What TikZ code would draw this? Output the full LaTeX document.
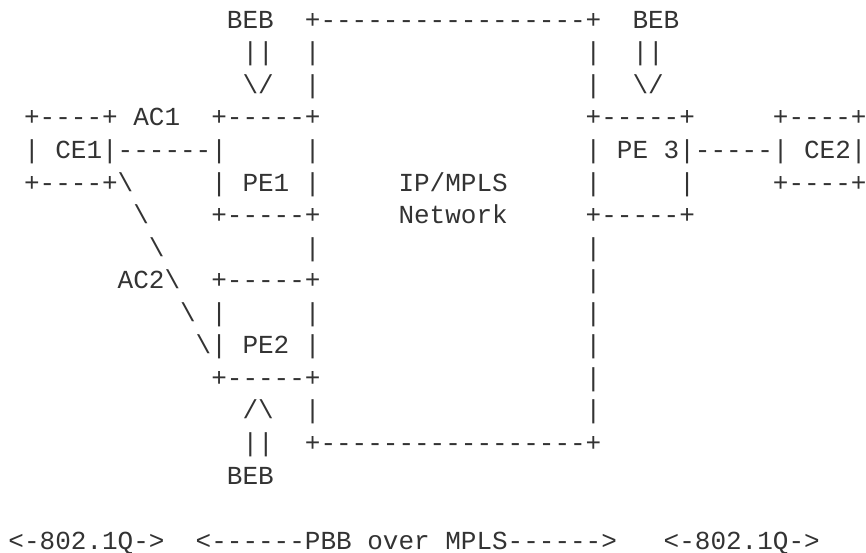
\documentclass[tikz,border=0pt]{standalone}
\usepackage{fontspec}
\setmonofont{Liberation Mono}
\definecolor{ink}{HTML}{333333}
\newcommand\asc[4]{\node[asc] (#1) at ({8.5+#2*15.6},{28.3+(#3-1)*32.55}) {#4};}
\begin{document}
\begin{tikzpicture}[x=1pt,y=-1pt,
  asc/.style={anchor=base west,inner sep=0pt,outer sep=0pt,text=ink,
    font=\ttfamily\fontsize{26}{26}\selectfont}]
\fill[white] (0,0) rectangle (866,553);
\useasboundingbox (0,0) rectangle (866,553);
% row 1
\asc{bebtl}{14}{1}{BEB}
\asc{nettop}{19}{1}{+-----------------+}
\asc{bebtr}{40}{1}{BEB}
% row 2
\asc{arrtl}{15}{2}{||}
\asc{netl2}{19}{2}{|}
\asc{netr2}{37}{2}{|}
\asc{arrtr}{40}{2}{||}
% row 3
\asc{headtl}{15}{3}{\textbackslash/}
\asc{netl3}{19}{3}{|}
\asc{netr3}{37}{3}{|}
\asc{headtr}{40}{3}{\textbackslash/}
% row 4
\asc{ceonetop}{1}{4}{+----+}
\asc{acone}{8}{4}{AC1}
\asc{peonetop}{13}{4}{+-----+}
\asc{pethreetop}{37}{4}{+-----+}
\asc{cetwotop}{49}{4}{+----+}
% row 5
\asc{ceone}{1}{5}{| CE1|------|}
\asc{peoner5}{19}{5}{|}
\asc{pethree}{37}{5}{| PE 3|-----| CE2|}
% row 6
\asc{ceonebot}{1}{6}{+----+\textbackslash}
\asc{peone}{13}{6}{| PE1 |}
\asc{iplabel}{25}{6}{IP/MPLS}
\asc{pethreel6}{37}{6}{|}
\asc{pethreer6}{43}{6}{|}
\asc{cetwobot}{49}{6}{+----+}
% row 7
\asc{actwoa}{8}{7}{\textbackslash}
\asc{peonebot}{13}{7}{+-----+}
\asc{netlabel}{25}{7}{Network}
\asc{pethreebot}{37}{7}{+-----+}
% row 8
\asc{actwob}{9}{8}{\textbackslash}
\asc{netl8}{19}{8}{|}
\asc{netr8}{37}{8}{|}
% row 9
\asc{actwo}{7}{9}{AC2\textbackslash}
\asc{petwotop}{13}{9}{+-----+}
\asc{netr9}{37}{9}{|}
% row 10
\asc{actwoc}{11}{10}{\textbackslash}
\asc{petwol10}{13}{10}{|}
\asc{petwor10}{19}{10}{|}
\asc{netr10}{37}{10}{|}
% row 11
\asc{petwo}{12}{11}{\textbackslash| PE2 |}
\asc{netr11}{37}{11}{|}
% row 12
\asc{petwobot}{13}{12}{+-----+}
\asc{netr12}{37}{12}{|}
% row 13
\asc{headb}{15}{13}{/\textbackslash}
\asc{netl13}{19}{13}{|}
\asc{netr13}{37}{13}{|}
% row 14
\asc{arrb}{15}{14}{||}
\asc{netbot}{19}{14}{+-----------------+}
% row 15
\asc{bebb}{14}{15}{BEB}
% row 17
\asc{dotql}{0}{17}{<-802.1Q->}
\asc{pbb}{12}{17}{<------PBB over MPLS------>}
\asc{dotqr}{42}{17}{<-802.1Q->}
\end{tikzpicture}
\end{document}
